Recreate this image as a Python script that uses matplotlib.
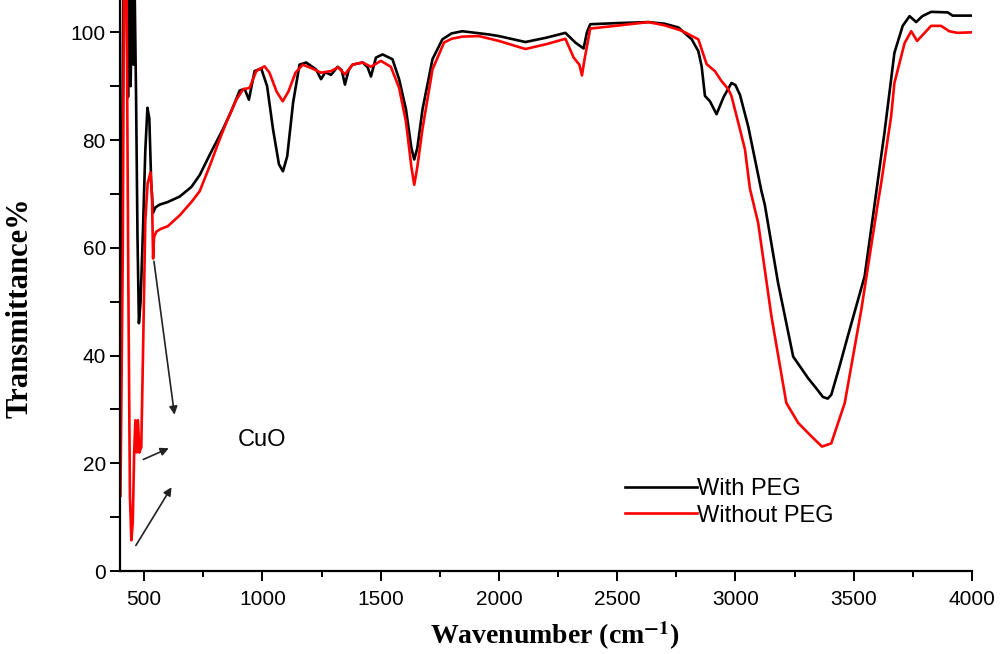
import numpy as np
import matplotlib
matplotlib.use("Agg")
import matplotlib.pyplot as plt
from matplotlib.ticker import MultipleLocator

# FTIR spectra of CuO
wn_peg = [400, 412, 425, 432, 437, 443, 449, 455, 460, 466, 472, 478, 485, 495, 505, 514, 522,
          530, 538, 548, 565, 600, 650, 700, 735, 780, 833, 870, 904, 925, 943, 967, 995, 1020,
          1045, 1070, 1087, 1105, 1130, 1157, 1185, 1227, 1248, 1266, 1290, 1318, 1335, 1349,
          1365, 1381, 1424, 1445, 1459, 1480, 1508, 1550, 1578, 1607, 1630, 1642, 1655, 1677,
          1719, 1761, 1800, 1845, 1902, 1958, 2000, 2112, 2200, 2281, 2323, 2358, 2372, 2386,
          2492, 2632, 2700, 2759, 2815, 2843, 2857, 2871, 2892, 2920, 2950, 2983, 3000, 3019,
          3054, 3068, 3110, 3124, 3180, 3244, 3307, 3340, 3370, 3390, 3405, 3440, 3475, 3546,
          3588, 3616, 3630, 3672, 3707, 3736, 3764, 3790, 3827, 3897, 3918, 4000]
t_peg = [30, 108, 108, 88, 108, 90, 108, 94, 108, 88, 62, 46, 50, 63, 78, 86, 84,
         72, 66.5, 67.5, 68, 68.5, 69.5, 71.3, 73.5, 77.5, 82.0, 85.5, 89.2, 89.5, 87.5, 92.8, 93.3, 90,
         82, 75.5, 74.2, 77, 87, 94.0, 94.4, 93.1, 91.3, 92.6, 92.1, 93.6, 93, 90.3,
         93, 94.0, 94.4, 93.5, 91.8, 95.3, 95.9, 95.0, 91.3, 85.7, 78.5, 76.4, 78.5, 85.7,
         95.0, 98.7, 99.8, 100.2, 99.9, 99.6, 99.3, 98.2, 99, 99.9, 98.1, 97.0, 100, 101.5,
         101.7, 101.9, 101.6, 100.9, 98.7, 96.5, 93.7, 88.2, 87.2, 84.8, 88, 90.6, 90.2, 88.4,
         82.5, 79.5, 70.5, 68, 53.5, 39.8, 35.8, 34, 32.3, 32, 32.7, 38, 43.6, 54.7,
         68, 77.0, 81.4, 96.2, 101.2, 103.0, 101.9, 103, 103.8, 103.7, 103.1, 103.1]

wn_nopeg = [400, 410, 415, 426, 433, 440, 446, 452, 458, 463, 468, 474, 480, 488, 496, 505, 515,
            527, 533, 538, 542, 552, 570, 600, 650, 700, 735, 780, 819, 850, 890, 918, 946, 974,
            1009, 1030, 1060, 1086, 1110, 1140, 1171, 1210, 1248, 1290, 1320, 1349, 1381, 1424,
            1459, 1501, 1543, 1578, 1607, 1630, 1642, 1655, 1677, 1719, 1768, 1800, 1845, 1915,
            2000, 2112, 2200, 2281, 2316, 2340, 2351, 2362, 2386, 2492, 2632, 2700, 2773, 2843,
            2878, 2913, 2940, 2970, 2983, 3012, 3040, 3061, 3096, 3152, 3215, 3265, 3321, 3366,
            3405, 3462, 3532, 3602, 3616, 3658, 3672, 3715, 3743, 3768, 3827, 3869, 3904, 3938, 4000]
t_nopeg = [14, 60, 108, 108, 55, 14, 5.7, 9, 22, 28, 22, 28, 22, 23, 42, 65, 72,
           74, 70, 58, 62, 63, 63.5, 64, 66, 68.5, 70.5, 75.5, 80.1, 83.5, 87.5, 89.4, 89.7, 92.8,
           93.7, 92.5, 89, 87.2, 89, 92.5, 94.0, 93.3, 92.5, 92.8, 93.5, 92.2, 94.0, 94.4,
           93.6, 94.7, 93.6, 89.7, 83.4, 75, 71.7, 75, 82.1, 93.1, 98.1, 98.8, 99.2, 99.3,
           98.4, 96.9, 97.8, 98.8, 95.3, 94, 92.0, 95, 100.7, 101.2, 101.9, 101.3, 100.3, 98.7,
           94.1, 92.8, 91, 89.4, 88.2, 83.2, 78.3, 71, 64.6, 47.3, 31.2, 27.5, 25.0, 23.1,
           23.7, 31.2, 48.5, 68.3, 72, 84.4, 90.6, 98.0, 100.2, 98.4, 101.2, 101.2, 100.2, 99.9, 100.0]

labels = ["With PEG", "Without PEG"]
x_ticks = [500, 1000, 1500, 2000, 2500, 3000, 3500, 4000]
y_ticks = [0, 20, 40, 60, 80, 100]

# arrows pointing at the Cu-O bands: (start, end) in data units
arrows = [((540, 58), (630, 28.5)), ((486, 20.5), (615, 23)), ((459, 4.3), (622, 16))]

plt.rcParams['font.family'] = ['Liberation Sans', 'DejaVu Sans']
plt.rcParams['mathtext.fontset'] = 'stix'

fig = plt.figure(figsize=(10.03, 6.54), dpi=100)
ax = fig.add_axes([0.1201, 0.1269, 0.849, 0.8731])

ax.plot(wn_peg, t_peg, color='black', lw=1.9, label=labels[0])
ax.plot(wn_nopeg, t_nopeg, color='#ff0000', lw=1.9, label=labels[1])

for (x0, y0), (x1, y1) in arrows:
    ax.annotate('', xy=(x1, y1), xytext=(x0, y0),
                arrowprops=dict(arrowstyle='-|>', color='#222222', lw=1.2, mutation_scale=12))

ax.text(895, 24.3, 'CuO', fontsize=17, va='center', ha='left')

ax.set_xlim(400, 4000)
ax.set_ylim(0, 106)
ax.set_xticks(x_ticks)
ax.set_yticks(y_ticks)
ax.xaxis.set_minor_locator(MultipleLocator(250))
ax.yaxis.set_minor_locator(MultipleLocator(10))
ax.tick_params(axis='both', which='major', direction='out', length=7, width=1.4, labelsize=15)
ax.tick_params(axis='x', which='minor', direction='out', length=4, width=1.4)
ax.tick_params(axis='y', which='minor', direction='out', length=7, width=1.4)
ax.tick_params(axis='x', pad=7)

for s in ['top', 'right']:
    ax.spines[s].set_visible(False)
for s in ['left', 'bottom']:
    ax.spines[s].set_linewidth(1.6)

ax.set_xlabel(r'Wavenumber (cm$^{\mathbf{-1}}$)', fontsize=20, fontweight='bold',
              family='Liberation Serif')
ax.set_ylabel('Transmittance%', fontsize=22, fontweight='bold', family='Liberation Serif')
ax.xaxis.set_label_coords(0.51, -0.084)
ax.yaxis.set_label_coords(-0.101, 0.462)

ax.legend(loc='upper left', bbox_to_anchor=(0.592, 0.163), frameon=False, fontsize=17,
          handlelength=3.05, handletextpad=0.0, borderpad=0, borderaxespad=0, labelspacing=0.2)

fig.savefig('out.png', dpi=100)
